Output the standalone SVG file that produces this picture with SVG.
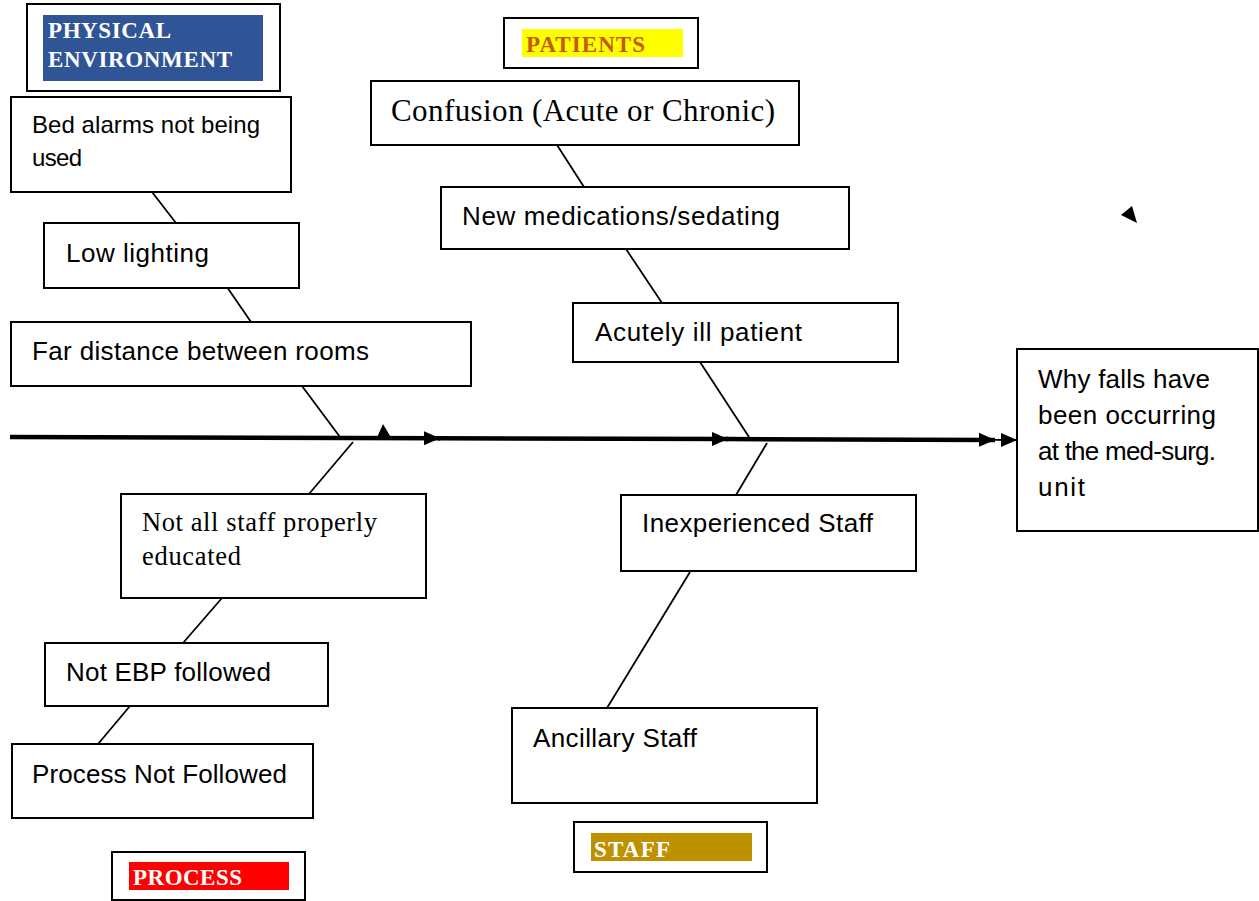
<svg xmlns="http://www.w3.org/2000/svg" width="1259" height="901" viewBox="0 0 1259 901">
<style>
.box{fill:#fff;stroke:#000;stroke-width:2}
.t{font-family:"Liberation Sans",Arial,sans-serif;font-size:26px;fill:#000}
.ts{font-family:"Liberation Serif","Times New Roman",serif;fill:#000}
.tb{font-family:"Liberation Serif","Times New Roman",serif;font-weight:bold;font-size:23px;fill:#fff}
.c{stroke:#000;stroke-width:1.8;fill:none}
.spine{stroke:#000;stroke-width:4.5;fill:none}
</style>
<defs>
<marker id="ah" markerUnits="userSpaceOnUse" markerWidth="16" markerHeight="16" viewBox="0 0 16 16" refX="16" refY="8" orient="auto">
<path d="M0,1 L16,8 L0,15 Z" fill="#000"/>
</marker>
</defs>
<rect width="1259" height="901" fill="#fff"/>

<g id="connectors">
<line class="spine" x1="10" y1="437" x2="440" y2="438.3" marker-end="url(#ah)"/>
<line class="spine" x1="438" y1="438.3" x2="728" y2="439.1" marker-end="url(#ah)"/>
<line class="spine" x1="726" y1="439.1" x2="995" y2="439.9" marker-end="url(#ah)"/>
<line class="c" x1="993" y1="439.9" x2="1017" y2="440" marker-end="url(#ah)" stroke-width="2"/>
<polygon points="377,437.5 383,424 391,437.5" fill="#000"/>
<polygon points="1121,215 1132,206 1137,223" fill="#000"/>
<line class="c" x1="152" y1="192" x2="176" y2="223"/>
<line class="c" x1="227" y1="287" x2="251" y2="322"/>
<line class="c" x1="302" y1="386" x2="340" y2="437"/>
<line class="c" x1="353" y1="442" x2="309" y2="494"/>
<line class="c" x1="222" y1="598" x2="183" y2="643"/>
<line class="c" x1="130" y1="706" x2="98" y2="744"/>
<line class="c" x1="557" y1="145" x2="584" y2="187"/>
<line class="c" x1="626" y1="249" x2="662" y2="303"/>
<line class="c" x1="700" y1="362" x2="749" y2="437"/>
<line class="c" x1="767" y1="443" x2="736" y2="495"/>
<line class="c" x1="690" y1="572" x2="607" y2="708"/>
</g>

<g id="cat-physical">
<rect class="box" x="27" y="4" width="253" height="87"/>
<rect x="43" y="15" width="220" height="66" fill="#2f5597"/>
<text class="tb" x="48" y="38" textLength="123">PHYSICAL</text>
<text class="tb" x="48" y="67" textLength="184">ENVIRONMENT</text>
</g>

<g id="cat-patients">
<rect class="box" x="504" y="18" width="194" height="50"/>
<rect x="522" y="29" width="161" height="28" fill="#ffff00"/>
<text class="tb" x="526" y="52" textLength="119" style="fill:#c55a11">PATIENTS</text>
</g>

<g id="cat-process">
<rect class="box" x="112" y="852" width="193" height="48"/>
<rect x="129" y="862" width="160" height="28" fill="#ff0000"/>
<text class="tb" x="133" y="885" textLength="109">PROCESS</text>
</g>

<g id="cat-staff">
<rect class="box" x="574" y="822" width="193" height="50"/>
<rect x="591" y="833" width="161" height="28" fill="#bf9000"/>
<text class="tb" x="594" y="857" textLength="76">STAFF</text>
</g>

<g id="bed-alarms">
<rect class="box" x="11" y="97" width="280" height="95"/>
<text class="t" x="32" y="133" textLength="228" style="font-size:24px">Bed alarms not being</text>
<text class="t" x="32" y="166" textLength="50" style="font-size:24px">used</text>
</g>

<g id="low-lighting">
<rect class="box" x="44" y="223" width="255" height="65"/>
<text class="t" x="66" y="262" textLength="143">Low lighting</text>
</g>

<g id="far-distance">
<rect class="box" x="11" y="322" width="460" height="64"/>
<text class="t" x="32" y="360" textLength="337">Far distance between rooms</text>
</g>

<g id="not-educated">
<rect class="box" x="121" y="494" width="305" height="104"/>
<text class="ts" x="142" y="531" textLength="235" style="font-size:26.5px">Not all staff properly</text>
<text class="ts" x="142" y="565" textLength="99" style="font-size:26.5px">educated</text>
</g>

<g id="not-ebp">
<rect class="box" x="45" y="643" width="283" height="63"/>
<text class="t" x="66" y="681" textLength="205">Not EBP followed</text>
</g>

<g id="process-not-followed">
<rect class="box" x="12" y="744" width="301" height="74"/>
<text class="t" x="32" y="783" textLength="255">Process Not Followed</text>
</g>

<g id="confusion">
<rect class="box" x="371" y="81" width="428" height="64"/>
<text class="ts" x="391" y="121" textLength="384" style="font-size:31px">Confusion (Acute or Chronic)</text>
</g>

<g id="new-meds">
<rect class="box" x="441" y="187" width="408" height="62"/>
<text class="t" x="462" y="225" textLength="318">New medications/sedating</text>
</g>

<g id="acutely-ill">
<rect class="box" x="573" y="303" width="325" height="59"/>
<text class="t" x="595" y="341" textLength="207">Acutely ill patient</text>
</g>

<g id="effect">
<rect class="box" x="1017" y="349" width="241" height="182"/>
<text class="t" x="1038" y="388" textLength="172">Why falls have</text>
<text class="t" x="1038" y="424" textLength="178">been occurring</text>
<text class="t" x="1038" y="460" textLength="178">at the med-surg.</text>
<text class="t" x="1038" y="496" textLength="47">unit</text>
</g>

<g id="inexperienced">
<rect class="box" x="621" y="495" width="295" height="76"/>
<text class="t" x="642" y="532" textLength="231">Inexperienced Staff</text>
</g>

<g id="ancillary">
<rect class="box" x="512" y="708" width="305" height="95"/>
<text class="t" x="533" y="747" textLength="164">Ancillary Staff</text>
</g>
</svg>
